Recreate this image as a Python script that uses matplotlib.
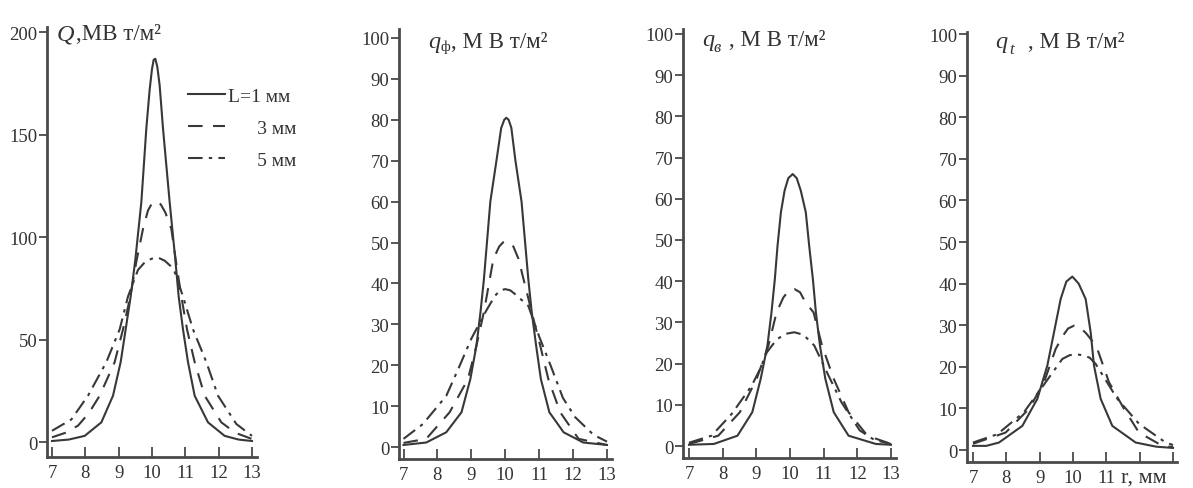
import matplotlib
matplotlib.use("Agg")
import matplotlib.pyplot as plt

# ---------------- data ----------------
# Panel 1: Q, MW/m^2
r_Q1 = [7.0, 7.5, 7.98, 8.48, 8.83, 9.06, 9.21, 9.36, 9.5, 9.68, 9.83, 9.93, 10.0, 10.05, 10.1, 10.16, 10.23, 10.33, 10.53, 10.7, 10.8, 10.93, 11.08, 11.28, 11.68, 12.18, 12.6, 13.0]
Q1 = [0.5, 1.2, 3, 9.6, 22.6, 39, 55, 71, 89, 117, 153, 172, 182, 186.5, 187, 183, 174, 153, 117, 89, 71, 55, 39, 22.6, 9.6, 3, 1.2, 0.5]
r_Q3 = [7.0, 7.4, 7.78, 8.1, 8.43, 8.88, 9.13, 9.35, 9.53, 9.73, 9.88, 10.0, 10.13, 10.26, 10.4, 10.58, 10.72, 10.88, 11.05, 11.28, 11.58, 12.08, 12.5, 13.0]
Q3 = [2.3, 4.5, 8, 14, 22.6, 39, 55, 71, 88, 104, 113, 116.5, 117.5, 116, 112, 104, 88, 71, 55, 39, 22.6, 9.6, 4.5, 1.5]
r_Q5 = [7.0, 7.58, 8.08, 8.63, 9.03, 9.28, 9.58, 9.8, 10.0, 10.18, 10.38, 10.55, 10.68, 10.93, 11.23, 11.63, 11.98, 12.53, 13.0]
Q5 = [5.5, 11, 22.6, 39, 55, 71, 84, 88, 89.5, 90, 88.5, 86, 83, 71, 55, 39, 22.6, 8.8, 3]

# Panel 2: q_ф
r_F1 = [7.0, 7.67, 8.26, 8.71, 8.97, 9.15, 9.27, 9.37, 9.56, 9.74, 9.88, 9.97, 10.03, 10.1, 10.18, 10.3, 10.48, 10.68, 10.78, 10.91, 11.05, 11.3, 11.72, 12.3, 13.0]
F1 = [0.5, 1.1, 3.6, 8.5, 16.6, 24.8, 33, 41, 60, 70, 78, 80, 80.5, 80, 78, 70, 60, 41, 33, 24.8, 16.6, 8.5, 3.6, 1.1, 0.5]
r_F3 = [7.0, 7.67, 8.36, 8.9, 9.15, 9.37, 9.65, 9.82, 9.93, 10.03, 10.13, 10.24, 10.39, 10.78, 11.03, 11.27, 11.62, 12.16, 13.0]
F3 = [1, 2, 8.5, 16.6, 24.8, 33, 46, 49, 50, 50.3, 50, 49, 46, 33, 24.8, 16.6, 8.5, 2, 0.5]
r_F5 = [7.0, 7.57, 8.26, 8.61, 9.0, 9.45, 9.7, 9.85, 10.0, 10.15, 10.3, 10.68, 11.0, 11.32, 11.7, 12.06, 12.6, 13.0]
F5 = [2, 5.6, 12.5, 19, 26.5, 33.5, 37, 38.3, 38.6, 38.3, 37.3, 34.5, 27, 20.3, 12, 7.3, 3, 1.3]

# Panel 3: q_в
r_B1 = [7.0, 7.74, 8.44, 8.88, 9.13, 9.33, 9.45, 9.55, 9.63, 9.73, 9.84, 9.95, 10.08, 10.2, 10.32, 10.47, 10.57, 10.68, 10.77, 10.89, 11.05, 11.3, 11.74, 12.55, 13.0]
B1 = [0.3, 0.5, 2.5, 8.2, 16.3, 24.4, 32.4, 40.5, 48.6, 56.7, 62, 65, 66, 65, 62, 56.7, 48.6, 40.5, 32.4, 24.4, 16.3, 8.2, 2.5, 0.5, 0.3]
r_B3 = [7.0, 7.87, 8.51, 9.01, 9.36, 9.6, 9.8, 9.95, 10.13, 10.3, 10.45, 10.7, 10.95, 11.3, 11.74, 12.3, 13.0]
B3 = [0.5, 2.5, 8.2, 16.3, 24.4, 32.4, 36, 37.6, 38.1, 37.3, 35, 32.4, 24.4, 16.3, 8.2, 2.5, 0.5]
r_B5 = [7.0, 7.67, 8.27, 8.86, 9.1, 9.31, 9.6, 9.85, 10.13, 10.4, 10.72, 11.12, 11.53, 12.07, 12.5, 13.0]
B5 = [0.8, 2.5, 7.8, 14.6, 18.5, 22.7, 25.8, 27.2, 27.6, 27, 24.4, 17.5, 10.6, 3.8, 1.5, 0.5]

# Panel 4: q_t
r_T1 = [7.0, 7.4, 7.78, 8.48, 8.93, 9.23, 9.43, 9.63, 9.8, 9.98, 10.17, 10.38, 10.53, 10.63, 10.83, 11.18, 11.88, 12.5, 13.0]
T1 = [1.0, 1.0, 1.8, 5.8, 12.3, 20.3, 28.3, 36.3, 40.5, 41.7, 40, 36.3, 28.3, 20.3, 12.3, 5.8, 1.8, 0.8, 0.5]
r_T3 = [7.0, 7.98, 8.68, 9.13, 9.48, 9.7, 9.85, 10.03, 10.2, 10.4, 10.55, 10.73, 11.08, 11.53, 11.98, 12.68, 13.0]
T3 = [1.5, 4.2, 9.9, 16.3, 24.3, 27.5, 29.2, 29.9, 29.6, 28, 26.5, 24.3, 16.3, 9.9, 4.2, 1.0, 0.7]
r_T5 = [7.0, 7.73, 8.53, 9.18, 9.68, 9.9, 10.08, 10.3, 10.5, 10.68, 11.33, 11.98, 12.78, 13.0]
T5 = [1.8, 3.8, 9.1, 16.3, 21.9, 22.8, 23, 22.8, 22.2, 20.7, 12.3, 6.3, 1.8, 1.2]

legend_labels = ["L=1 мм", "      3 мм", "      5 мм"]
x_ticks = [7, 8, 9, 10, 11, 12, 13]
x_ticklabels = ["7", "8", "9", "10", "11", "12", "13"]
x_ticklabels_last = ["7", "8", "9", "10", "11", "", ""]
y_ticks_Q = [0, 50, 100, 150, 200]
y_ticks_q = [0, 10, 20, 30, 40, 50, 60, 70, 80, 90, 100]

# ---------------- figure ----------------
W, H = 1193, 489
plt.rcParams['font.family'] = ['Liberation Serif', 'DejaVu Serif']
fig = plt.figure(figsize=(W / 100, H / 100), dpi=100)
INK = '#383838'
SPINE = '#4a4a4a'
TXT = '#333333'

styles = [dict(ls='-'), dict(ls=(0, (7, 5))), dict(ls=(0, (7, 3, 1.6, 3)))]


def px_axes(l, r, b, t):
    return fig.add_axes([l / W, 1 - b / H, (r - l) / W, (b - t) / H])


panels = [
    dict(box=(47, 257, 458, 28), xlim=(6.85, 13.15), ylim=(-7.3, 202.5), yt=y_ticks_Q,
         series=[(r_Q1, Q1), (r_Q3, Q3), (r_Q5, Q5)], xl=x_ticklabels),
    dict(box=(399, 612, 460, 30), xlim=(6.867, 13.147), ylim=(-2.93, 102.2), yt=y_ticks_q,
         series=[(r_F1, F1), (r_F3, F3), (r_F5, F5)], xl=x_ticklabels),
    dict(box=(683, 896, 459, 30), xlim=(6.822, 13.149), ylim=(-2.91, 101.2), yt=y_ticks_q,
         series=[(r_B1, B1), (r_B3, B3), (r_B5, B5)], xl=x_ticklabels),
    dict(box=(967, 1177, 463, 33), xlim=(6.82, 13.12), ylim=(-2.88, 100.5), yt=y_ticks_q,
         series=[(r_T1, T1), (r_T3, T3), (r_T5, T5)], xl=x_ticklabels_last),
]

axes = []
for p in panels:
    ax = px_axes(*p['box'])
    handles = []
    for (rx, vy), st in zip(p['series'], styles):
        h, = ax.plot(rx, vy, color=INK, lw=1.5, **st)
        handles.append(h)
    ax.set_xlim(*p['xlim'])
    ax.set_ylim(*p['ylim'])
    ax.set_xticks(x_ticks)
    ax.set_xticklabels(p['xl'])
    ax.set_yticks(p['yt'])
    for s in ('top', 'right'):
        ax.spines[s].set_visible(False)
    for s in ('left', 'bottom'):
        ax.spines[s].set_linewidth(2.0)
        ax.spines[s].set_color(SPINE)
    ax.tick_params(axis='y', direction='out', length=6, width=1.3, pad=1,
                   labelsize=13.5, colors=SPINE, labelcolor=TXT)
    ax.tick_params(axis='x', direction='in', length=7, width=1.3, pad=5,
                   labelsize=13.5, colors=SPINE, labelcolor=TXT)
    ax.patch.set_alpha(0)
    axes.append((ax, handles))

# legend in first panel
ax0, h0 = axes[0]
leg = ax0.legend(h0, legend_labels, loc='upper left', bbox_to_anchor=(188 / W, 1 - 88 / H),
                 bbox_transform=fig.transFigure, frameon=False, fontsize=14,
                 handlelength=1.9, handletextpad=0.15, labelspacing=0.75, borderpad=0,
                 borderaxespad=0)
for t in leg.get_texts():
    t.set_color(TXT)


def ftext(x, y, s, **kw):
    kw.setdefault('color', TXT)
    kw.setdefault('va', 'baseline')
    fig.text(x / W, 1 - y / H, s, **kw)


TS = 16.5
# panel titles
ftext(57, 40, "Q", fontsize=TS + 1, style='italic')
ftext(76, 40, ",МВ т/м²", fontsize=TS)

ftext(428, 48, "q", fontsize=TS + 1, style='italic')
ftext(440, 51, "ф", fontsize=11)
ftext(451, 48, ", М В т/м²", fontsize=TS)

ftext(702, 46, "q", fontsize=TS + 1, style='italic')
ftext(713, 52, "в", fontsize=12, style='italic')
ftext(729, 46, ", М В т/м²", fontsize=TS)

ftext(995, 48, "q", fontsize=TS + 1, style='italic')
ftext(1009, 54, "t", fontsize=12, style='italic')
ftext(1028, 48, ", М В т/м²", fontsize=TS)

# axis label of last panel, in place of tick labels 12 and 13
ftext(1121, 483, "r, мм", fontsize=16)

fig.savefig("out.png", dpi=100, facecolor='white')
